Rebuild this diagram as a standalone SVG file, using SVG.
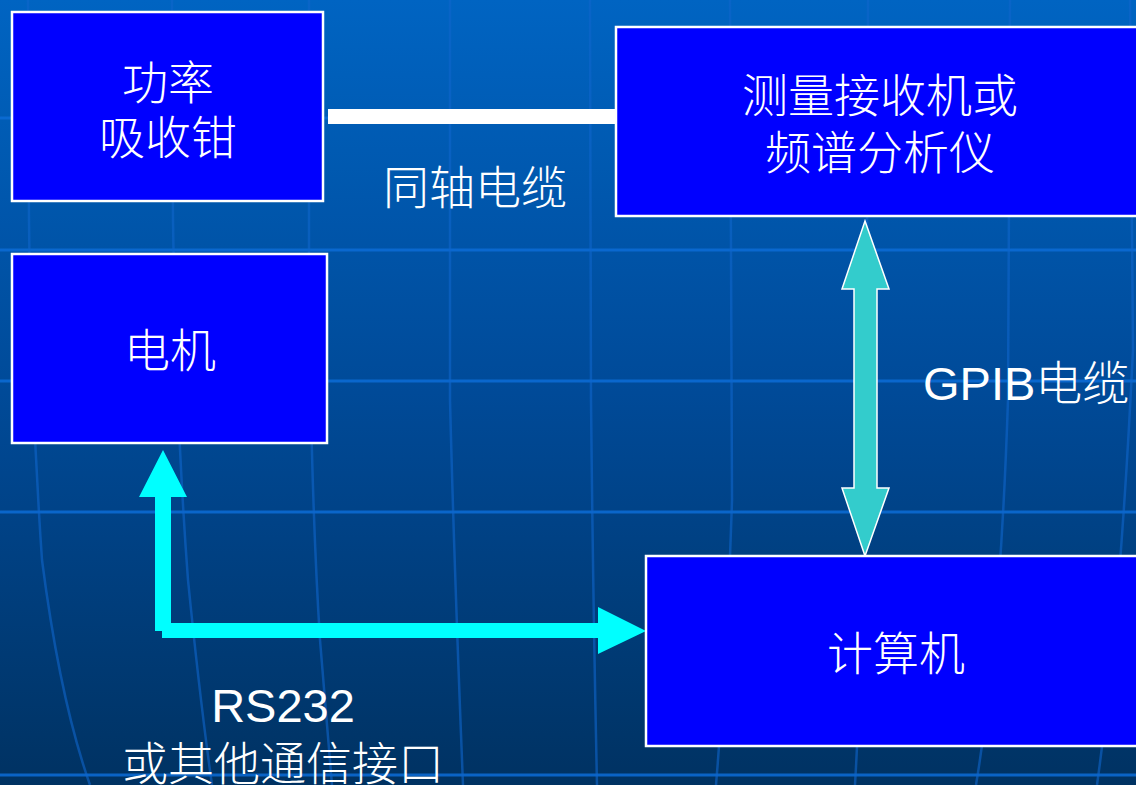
<svg xmlns="http://www.w3.org/2000/svg" width="1136" height="785" viewBox="0 0 1136 785">
  <defs>
    <linearGradient id="bg" x1="0" y1="0" x2="0" y2="1">
      <stop offset="0" stop-color="#0064c2"/>
      <stop offset="0.5" stop-color="#004a98"/>
      <stop offset="1" stop-color="#003262"/>
    </linearGradient>
    <style>
      .hline { stroke: #0c6cd6; stroke-width: 3; fill: none; opacity: 0.85; }
      .vline { stroke: #0f66cc; stroke-width: 2.5; fill: none; opacity: 0.6; }
      .box { fill: #0000ff; stroke: #ffffff; stroke-width: 2.5; }
      .cjk { font-family: "Noto Sans CJK SC", "Liberation Sans", sans-serif; font-weight: 300; font-size: 46px; fill: #ffffff; text-anchor: middle; }
      .mix { font-family: "Liberation Sans", "Noto Sans CJK SC", sans-serif; font-size: 47px; fill: #ffffff; }
      .gpib { fill: #33cccc; stroke: #ffffff; stroke-width: 1.5; }
      .rs { fill: #00ffff; }
    </style>
  </defs>

  <g id="background">
    <rect x="0" y="0" width="1136" height="785" fill="url(#bg)"/>
    <path class="hline" d="M0 118 H1136 M0 250 H1136 M0 381 H1136 M0 512 H1136 M0 775 H1136"/>
    <path class="vline" d="M28 0 L29 220 Q31 400 42 560 Q60 700 90 785"/>
    <path class="vline" d="M172 0 L173 220 Q176 420 188 580 Q200 700 212 785"/>
    <path class="vline" d="M309 0 L309 250 Q310 480 320 640 L332 785"/>
    <path class="vline" d="M450 0 L450 400 Q454 560 463 785"/>
    <path class="vline" d="M590 0 L591 400 Q593 600 597 785"/>
    <path class="vline" d="M730 0 L732 500 Q728 640 716 785"/>
    <path class="vline" d="M868 0 L866 500 Q862 660 855 785"/>
    <path class="vline" d="M1010 0 L1008 400 Q1000 640 976 785"/>
    <path class="vline" d="M1130 0 L1133 350 Q1120 620 1097 785"/>
  </g>

  <g id="connectors">
    <rect id="coax" x="328" y="109" width="288" height="15" fill="#ffffff"/>
    <polygon id="gpib-arrow" class="gpib" points="865,221 889,289 877,289 877,488 889,488 865,556 842,488 854,488 854,289 842,289"/>
    <polygon id="rs-up" class="rs" points="163,450 187,497 171,497 171,631 155,631 155,497 139,497"/>
    <polygon id="rs-right" class="rs" points="162,623 598,623 598,607 646,631 598,654 598,638 162,638"/>
  </g>

  <g id="labels">
    <text class="cjk" x="475" y="204">同轴电缆</text>
    <text class="mix" x="923" y="400">GPIB<tspan font-weight="300">电缆</tspan></text>
    <text class="mix" x="283" y="722" text-anchor="middle">RS232</text>
    <text class="cjk" x="283" y="780">或其他通信接口</text>
  </g>

  <g id="node-clamp">
    <rect class="box" x="12" y="12" width="311" height="189"/>
    <text class="cjk" x="168" y="99">功率</text>
    <text class="cjk" x="168" y="154">吸收钳</text>
  </g>

  <g id="node-receiver">
    <rect class="box" x="616" y="27" width="540" height="189"/>
    <text class="cjk" x="880" y="112">测量接收机或</text>
    <text class="cjk" x="880" y="169">频谱分析仪</text>
  </g>

  <g id="node-motor">
    <rect class="box" x="12" y="254" width="315" height="189"/>
    <text class="cjk" x="170" y="367">电机</text>
  </g>

  <g id="node-computer">
    <rect class="box" x="646" y="556" width="520" height="190"/>
    <text class="cjk" x="896" y="670">计算机</text>
  </g>
</svg>
